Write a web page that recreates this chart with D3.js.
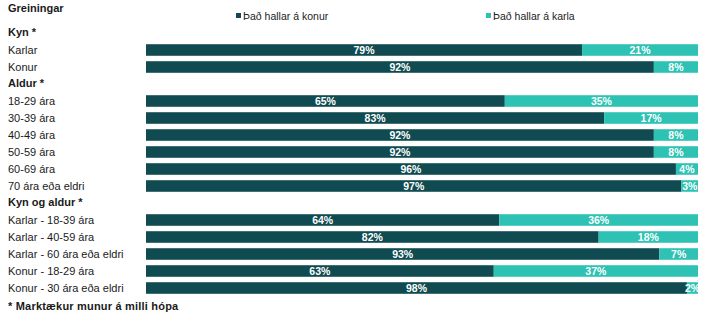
<!DOCTYPE html>
<html><head><meta charset="utf-8">
<script src="https://cdn.jsdelivr.net/npm/d3@7"></script>
<style>body{margin:0;background:#fff}text{font-family:"Liberation Sans",Arial,sans-serif}</style>
</head><body><svg id="c" width="713" height="322"></svg>
<script>
const title = "Greiningar";
const footnote = "* Marktækur munur á milli hópa";
const seriesNames = ["Það hallar á konur", "Það hallar á karla"];
const colors = ["#0f4b50", "#2dc2b3"];
const rowLabels = ["Kyn *","Karlar","Konur","Aldur *","18-29 ára","30-39 ára","40-49 ára","50-59 ára","60-69 ára","70 ára eða eldri","Kyn og aldur *","Karlar - 18-39 ára","Karlar - 40-59 ára","Karlar - 60 ára eða eldri","Konur - 18-29 ára","Konur - 30 ára eða eldri"];
const isHeader = [true,false,false,true,false,false,false,false,false,false,true,false,false,false,false,false];
const konurValues = [null,79,92,null,65,83,92,92,96,97,null,64,82,93,63,98];
const karlaValues = [null,21,8,null,35,17,8,8,4,3,null,36,18,7,37,2];

const svg = d3.select("#c");
const x = d3.scaleLinear().domain([0,100]).range([146,698]);
const y = d3.scaleBand().domain(rowLabels).range([24.5, 24.5+16*17]).paddingInner(0.32).paddingOuter(0.16);

svg.append("text").attr("x",8).attr("y",12).attr("font-size",11).attr("font-weight","bold").attr("fill","#1a1a1a").text(title);

// legend
const legX = [236, 486];
seriesNames.forEach((n,i)=>{
  svg.append("rect").attr("x",legX[i]).attr("y",13).attr("width",5).attr("height",5).attr("fill",colors[i]);
  svg.append("text").attr("x",legX[i]+7).attr("y",19.5).attr("font-size",10.5).attr("fill","#222").text(n);
});

rowLabels.forEach((lab,i)=>{
  const cy = y(lab) + y.bandwidth()/2;
  svg.append("text").attr("x",8).attr("y",isHeader[i]?cy-1:cy).attr("dy","0.36em")
    .attr("font-size",11).attr("font-weight",isHeader[i]?"bold":"normal").attr("fill","#1a1a1a").text(lab);
  if(isHeader[i]) return;
  const segs = [[0,konurValues[i]],[konurValues[i],konurValues[i]+karlaValues[i]]];
  segs.forEach((s,j)=>{
    svg.append("rect").attr("x",x(s[0])).attr("y",y(lab)).attr("width",x(s[1])-x(s[0])).attr("height",y.bandwidth()).attr("fill",colors[j]);
    const v = j===0?konurValues[i]:karlaValues[i];
    svg.append("text").attr("x",(x(s[0])+x(s[1]))/2).attr("y",cy).attr("dy","0.36em").attr("text-anchor","middle")
      .attr("font-size",10.5).attr("font-weight","bold").attr("fill","#ffffff").text(v+"%");
  });
});

svg.append("text").attr("x",8).attr("y",306).attr("dy","0.36em").attr("font-size",11).attr("font-weight","bold").attr("letter-spacing","0.2").attr("fill","#1a1a1a").text(footnote);
</script></body></html>
